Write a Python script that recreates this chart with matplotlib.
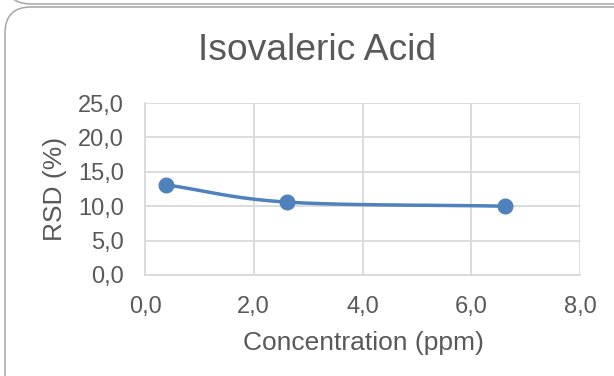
import numpy as np
import matplotlib
matplotlib.use("Agg")
import matplotlib.pyplot as plt
from matplotlib.patches import FancyBboxPatch
from matplotlib.ticker import FuncFormatter, MultipleLocator

# Data
concentration = [0.39, 2.61, 6.62]
rsd = [13.1, 10.6, 10.0]
title = "Isovaleric Acid"
x_label = "Concentration (ppm)"
y_label = "RSD (%)"

TEXT = "#595959"
GRID = "#d9d9d9"
LINE = "#4f81bd"

plt.rcParams["font.family"] = ["Liberation Sans", "DejaVu Sans"]

W, H = 614, 376
fig = plt.figure(figsize=(W / 100, H / 100), dpi=100)


def smooth_curve(xs, ys, n=60):
    """Catmull-Rom style smoothing through the points (like spreadsheet smoothed lines)."""
    xs = np.asarray(xs, float)
    ys = np.asarray(ys, float)
    px = np.concatenate([[2 * xs[0] - xs[1]], xs, [2 * xs[-1] - xs[-2]]])
    py = np.concatenate([[2 * ys[0] - ys[1]], ys, [2 * ys[-1] - ys[-2]]])
    out_x, out_y = [], []
    t = np.linspace(0, 1, n)
    for i in range(1, len(px) - 2):
        p0, p1, p2, p3 = [np.array([px[j], py[j]]) for j in range(i - 1, i + 3)]
        c1 = p1 + (p2 - p0) / 6
        c2 = p2 - (p3 - p1) / 6
        b = ((1 - t) ** 3)[:, None] * p1 + (3 * (1 - t) ** 2 * t)[:, None] * c1 \
            + (3 * (1 - t) * t ** 2)[:, None] * c2 + (t ** 3)[:, None] * p2
        out_x.extend(b[:, 0])
        out_y.extend(b[:, 1])
    return np.array(out_x), np.array(out_y)


# Chart frames (rounded borders) in pixel coordinates
bg = fig.add_axes([0, 0, 1, 1])
bg.set_xlim(0, W)
bg.set_ylim(H, 0)
bg.axis("off")
bg.add_patch(FancyBboxPatch((5, -120), 640, 124, boxstyle="round,pad=0,rounding_size=26",
                            fc="white", ec="#a6a6a6", lw=1.1))
bg.add_patch(FancyBboxPatch((5, 7), 640, 420, boxstyle="round,pad=0,rounding_size=26",
                            fc="white", ec="#a6a6a6", lw=1.1))

ax = fig.add_axes([145 / W, 1 - 275 / H, 435 / W, 172 / H])
ax.set_xlim(0, 8)
ax.set_ylim(0, 25)
ax.xaxis.set_major_locator(MultipleLocator(2))
ax.yaxis.set_major_locator(MultipleLocator(5))
fmt = FuncFormatter(lambda v, p: f"{v:.1f}".replace(".", ","))
ax.xaxis.set_major_formatter(fmt)
ax.yaxis.set_major_formatter(fmt)
ax.grid(True, color=GRID, lw=1.3)
ax.set_axisbelow(True)
for side in ["top", "right"]:
    ax.spines[side].set_visible(False)
for side in ["left", "bottom"]:
    ax.spines[side].set_color(GRID)
    ax.spines[side].set_linewidth(1.3)
ax.tick_params(length=0, labelsize=17, colors=TEXT, pad=15)

sx, sy = smooth_curve(concentration, rsd)
ax.plot(sx, sy, color=LINE, lw=2.5, solid_capstyle="round", zorder=3)
ax.plot(concentration, rsd, "o", color=LINE, ms=10.5, zorder=4, clip_on=False)

# Axis titles and chart title placed in pixel coordinates
fig.text(363 / W, 1 - 350 / H, x_label, fontsize=19, color=TEXT, ha="center", va="baseline")
fig.text(55 / W, 1 - 189 / H, y_label, fontsize=19, color=TEXT, ha="center", va="center",
         rotation=90)
fig.text(317 / W, 1 - 60 / H, title, fontsize=26.8, color=TEXT, ha="center", va="baseline")

fig.savefig("out.png", dpi=100)
